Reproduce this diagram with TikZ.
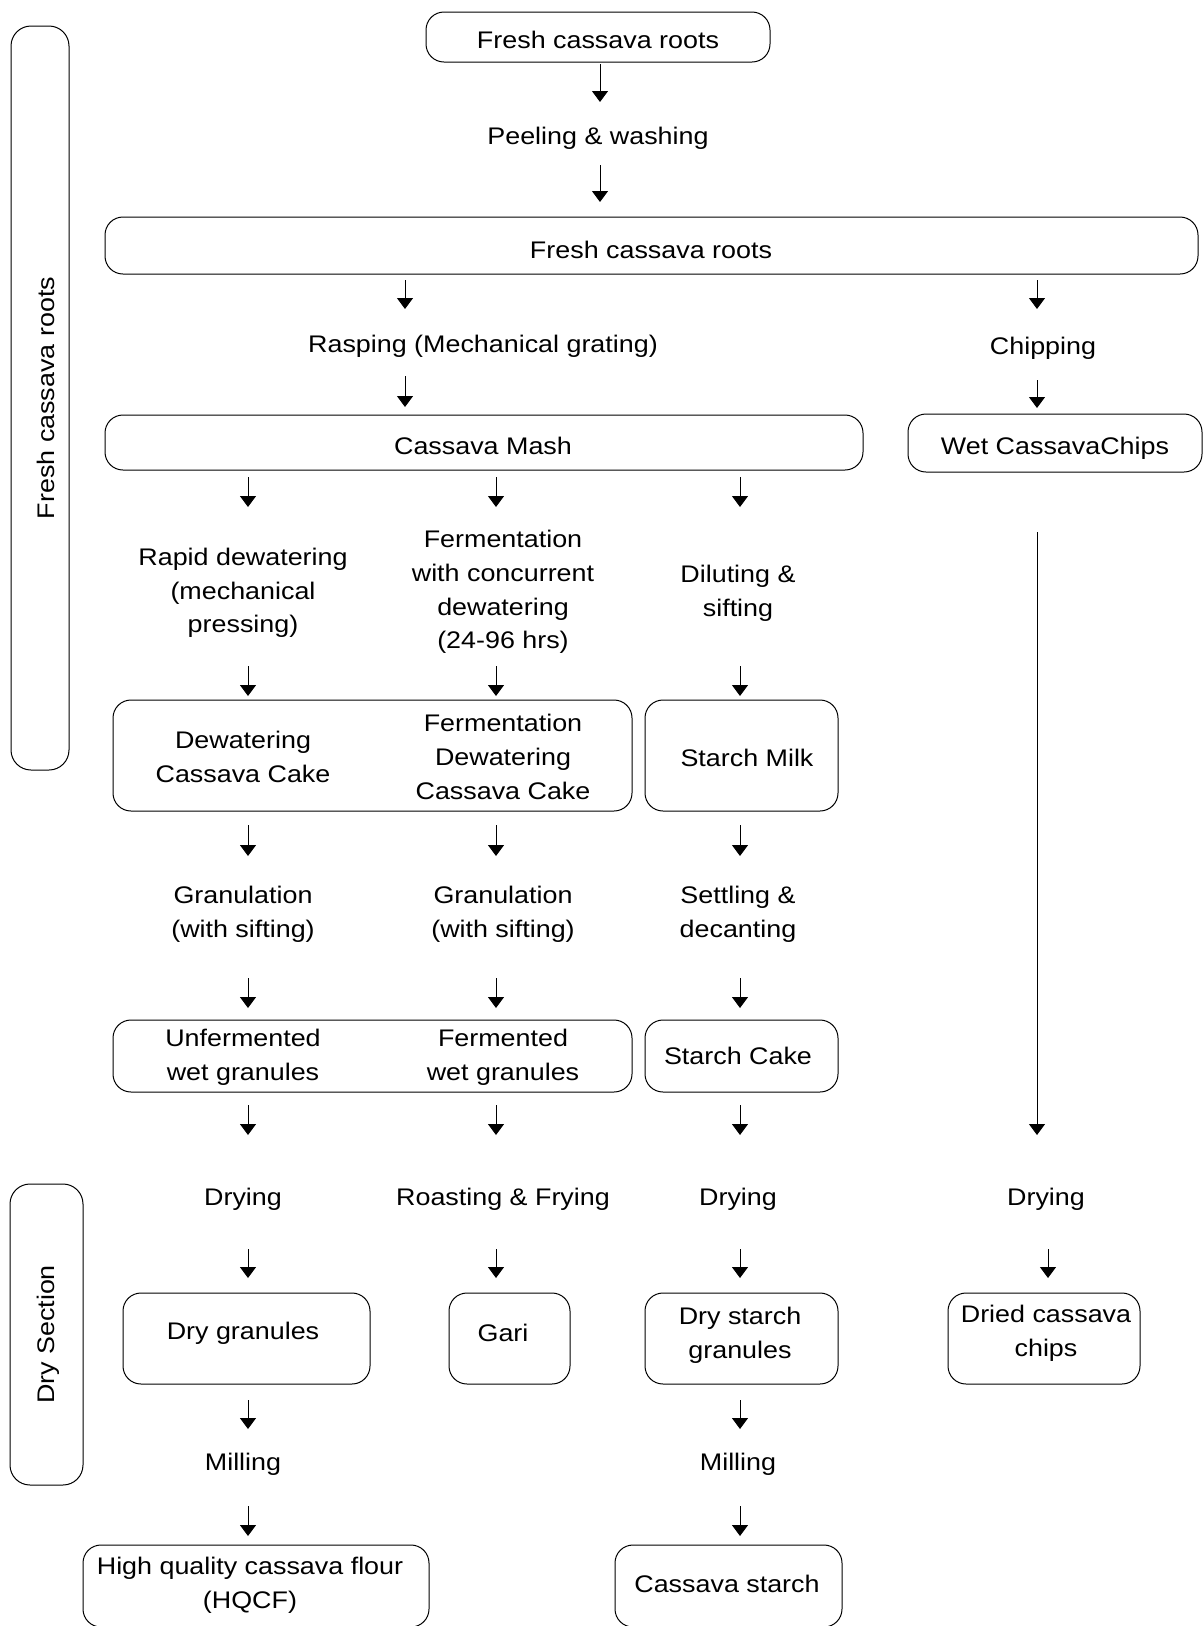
\documentclass[tikz,border=0pt]{standalone}
\usepackage{fontspec}
\setmainfont{Liberation Sans}[FakeStretch=1.12]
\usetikzlibrary{arrows.meta}
\newcommand\flowarrow[4]{%
  \coordinate (#1s) at (#2,#3);
  \coordinate (#1e) at (#2,#4);
  \draw[arr] (#1s) -- (#1e);}
\begin{document}
\begin{tikzpicture}[x=1pt,y=-1pt,
  every node/.style={font=\fontsize{24}{33.7}\selectfont, inner sep=0pt, align=center},
  box/.style={draw, line width=1pt, rounded corners=18pt},
  arr/.style={-{Triangle[width=16pt,length=11pt]}, line width=1pt},
  lbl/.style={}]
\useasboundingbox (0,0) rectangle (1203,1626);

% side boxes
\node[box, minimum width=58pt, minimum height=744pt, rounded corners=20pt] (side1) at (40,398) {};
\node[rotate=90] (side1t) at (46,398) {Fresh cassava roots};
\node[box, minimum width=73pt, minimum height=301pt, rounded corners=20pt] (side2) at (46.5,1334.5) {};
\node[rotate=90] (side2t) at (48,1334.5) {Dry Section};

% top
\node[box, minimum width=344pt, minimum height=50pt] (top) at (598,37) {};
\node (topt) at (598,40) {Fresh cassava roots};
\node[lbl] (peel) at (598,138) {Peeling \& washing};
\node[box, minimum width=1093pt, minimum height=57pt] (big) at (651.5,245.5) {};
\node (bigt) at (651,250) {Fresh cassava roots};
\node[lbl] (rasp) at (483,346) {Rasping (Mechanical grating)};
\node[lbl] (chip) at (1043,348) {Chipping};
\node[box, minimum width=758pt, minimum height=55pt] (mash) at (484,442.5) {};
\node (masht) at (483,446) {Cassava Mash};
\node[box, minimum width=294pt, minimum height=58pt] (wet) at (1055,443) {};
\node (wett) at (1055,448) {Wet CassavaChips};

% second level texts
\node[lbl] (rapid) at (243,593) {Rapid dewatering\\(mechanical\\pressing)};
\node[lbl] (ferm) at (503,592) {Fermentation\\with concurrent\\dewatering\\(24-96 hrs)};
\node[lbl] (dilut) at (738,593) {Diluting \&\\sifting};

% cake boxes
\node[box, minimum width=519pt, minimum height=111pt] (cakebox) at (372.5,755.5) {};
\node (cake1) at (243,757) {Dewatering\\Cassava Cake};
\node (cake2) at (503,757) {Fermentation\\Dewatering\\Cassava Cake};
\node[box, minimum width=193pt, minimum height=111pt] (milk) at (741.5,755.5) {};
\node (milkt) at (747,758) {Starch Milk};

% granulation
\node[lbl] (gran1) at (243,914) {Granulation\\(with sifting)};
\node[lbl] (gran2) at (503,914) {Granulation\\(with sifting)};
\node[lbl] (settle) at (738,914) {Settling \&\\decanting};

% granule boxes
\node[box, minimum width=519pt, minimum height=72pt] (granbox) at (372.5,1056) {};
\node (wg1) at (243,1057) {Unfermented\\wet granules};
\node (wg2) at (503,1057) {Fermented\\wet granules};
\node[box, minimum width=193pt, minimum height=72pt] (scake) at (741.5,1056) {};
\node (scaket) at (738,1056) {Starch Cake};

% drying row
\node[lbl] (dry1) at (243,1199) {Drying};
\node[lbl] (roast) at (503,1199) {Roasting \& Frying};
\node[lbl] (dry2) at (738,1199) {Drying};
\node[lbl] (dry3) at (1046,1199) {Drying};

% product boxes
\node[box, minimum width=247pt, minimum height=91pt] (drygran) at (246.5,1338.5) {};
\node (drygrant) at (243,1333) {Dry granules};
\node[box, minimum width=121pt, minimum height=91pt] (gari) at (509.5,1338.5) {};
\node (garit) at (503,1333) {Gari};
\node[box, minimum width=193pt, minimum height=91pt] (dstarch) at (741.5,1338.5) {};
\node (dstarcht) at (740,1335) {Dry starch\\granules};
\node[box, minimum width=192pt, minimum height=91pt] (dchips) at (1044,1338.5) {};
\node (dchipst) at (1046,1333) {Dried cassava\\chips};

% milling
\node[lbl] (mill1) at (243,1464) {Milling};
\node[lbl] (mill2) at (738,1464) {Milling};

% final
\node[box, minimum width=346pt, minimum height=82pt] (hqcf) at (256,1586) {};
\node (hqcft) at (250,1585) {High quality cassava flour\\(HQCF)};
\node[box, minimum width=227pt, minimum height=82pt] (cstarch) at (728.5,1586) {};
\node (cstarcht) at (727,1584) {Cassava starch};

% arrows
\flowarrow{a1}{600}{64}{102}
\flowarrow{a2}{600}{165}{202}
\flowarrow{a3}{405}{280}{309}
\flowarrow{a3r}{1037}{280}{309}
\flowarrow{a4}{405}{376}{407}
\flowarrow{a4r}{1037}{380}{408}
\flowarrow{a5a}{248}{477}{507}
\flowarrow{a5b}{496}{477}{507}
\flowarrow{a5c}{740}{477}{507}
\flowarrow{a6a}{248}{666}{696}
\flowarrow{a6b}{496}{666}{696}
\flowarrow{a6c}{740}{666}{696}
\flowarrow{a7a}{248}{825}{856}
\flowarrow{a7b}{496}{825}{856}
\flowarrow{a7c}{740}{825}{856}
\flowarrow{a8a}{248}{978}{1008}
\flowarrow{a8b}{496}{978}{1008}
\flowarrow{a8c}{740}{978}{1008}
\flowarrow{a9a}{248}{1105}{1135}
\flowarrow{a9b}{496}{1105}{1135}
\flowarrow{a9c}{740}{1105}{1135}
\flowarrow{along}{1037}{532}{1135}
\flowarrow{a10a}{248}{1249}{1278}
\flowarrow{a10b}{496}{1249}{1278}
\flowarrow{a10c}{740}{1249}{1278}
\flowarrow{a10d}{1048}{1249}{1278}
\flowarrow{a11a}{248}{1400}{1429}
\flowarrow{a11c}{740}{1400}{1429}
\flowarrow{a12a}{248}{1506}{1536}
\flowarrow{a12c}{740}{1506}{1536}
\end{tikzpicture}
\end{document}
